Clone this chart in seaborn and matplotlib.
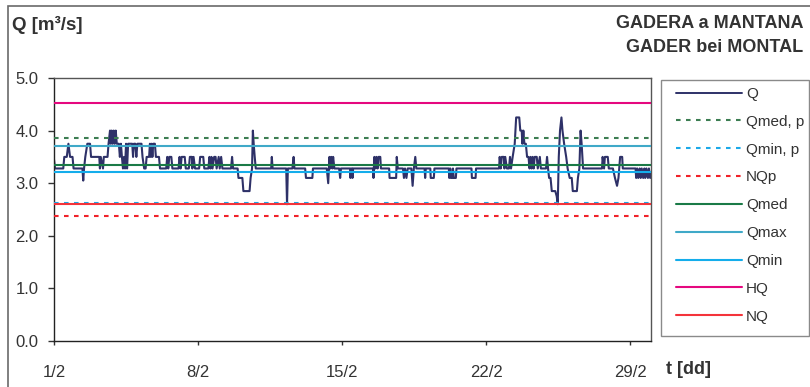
import matplotlib
matplotlib.use("Agg")
import matplotlib.pyplot as plt
from matplotlib.patches import Rectangle
from matplotlib.lines import Line2D
import numpy as np
import pandas as pd
import seaborn as sns

# Discharge series: time in days since 1 Feb 00:00, Q in m3/s
t_days = [
    0.00, 0.05, 0.45, 0.50, 0.62, 0.70, 0.78, 0.90, 0.95, 1.38, 1.42, 1.46, 1.52, 1.62,
    1.75, 1.80, 2.20, 2.23, 2.27, 2.38, 2.42, 2.60, 2.65, 2.72, 2.76, 2.80, 2.85, 2.90,
    2.95, 3.00, 3.05, 3.15, 3.20, 3.25, 3.30, 3.35, 3.40, 3.45, 3.50, 3.55, 3.60, 3.80,
    3.84, 3.88, 3.95, 4.00, 4.05, 4.25, 4.30, 4.38, 4.45, 4.50, 4.62, 4.66, 4.70, 4.74,
    4.78, 4.82, 4.90, 4.95, 5.10, 5.15, 5.45,
    5.50, 5.55, 5.60, 5.70, 5.75, 6.05, 6.10, 6.15, 6.20, 6.35, 6.40, 6.55, 6.60, 6.70,
    6.72, 6.78, 6.85, 7.05, 7.10, 7.25, 7.30, 7.50, 7.55, 7.60, 7.65, 7.70, 7.78, 7.85,
    7.90, 8.00, 8.05, 8.12, 8.18, 8.60, 8.65, 8.70, 8.92,
    8.96, 9.15, 9.20, 9.50, 9.55, 9.62, 9.66, 9.70, 9.75, 9.80, 10.55, 10.58, 10.62,
    11.28, 11.32, 11.36, 11.58, 11.64, 11.68, 12.20, 12.24, 12.55, 12.58, 13.25, 13.32,
    13.38, 13.42, 13.47, 13.52, 13.56, 13.62, 13.85, 13.90, 13.94, 14.38, 14.40, 14.44,
    14.48, 14.50, 14.53,
    15.50, 15.52, 15.56, 15.62, 15.66, 15.72, 15.76, 15.85, 15.88, 16.28, 16.30, 16.62,
    16.65, 16.70, 16.95, 17.00, 17.05, 17.12, 17.18, 17.36, 17.42, 17.48, 17.55, 17.60,
    18.00, 18.03, 18.06, 18.28, 18.30, 18.45, 18.48,
    19.18, 19.20, 19.25, 19.28, 19.35, 19.38, 19.42, 19.52, 19.55, 20.28, 20.30, 20.48,
    20.50, 21.62, 21.65, 21.70, 21.75, 21.85, 21.88, 21.92, 22.00, 22.10, 22.15, 22.20,
    22.28, 22.38, 22.45, 22.60, 22.65, 22.72, 22.75, 22.80, 22.85, 22.92, 22.98, 23.05,
    23.10, 23.15, 23.20, 23.25, 23.30, 23.35, 23.45, 23.50, 23.60, 23.65, 23.90,
    23.95, 24.00, 24.05, 24.12, 24.18, 24.35, 24.42, 24.47, 24.52, 24.58, 24.65, 24.70,
    24.78, 24.88, 24.95, 25.05, 25.15, 25.20, 25.40, 25.45, 25.52, 25.58, 25.63, 25.70,
    26.62, 26.65, 26.72, 26.76, 26.90, 26.95, 27.15, 27.25, 27.35, 27.42, 27.50, 27.60,
    27.63, 28.25, 28.28, 28.33, 28.38, 28.45, 28.50, 28.55, 28.62, 28.68, 28.72, 28.78,
    28.85, 28.90, 28.96, 29.00,
]
q_values = [
    3.45, 3.28, 3.28, 3.50, 3.50, 3.75, 3.50, 3.50, 3.28, 3.28, 3.05, 3.28, 3.50, 3.75,
    3.75, 3.50, 3.50, 3.28, 3.50, 3.28, 3.50, 3.50, 3.75, 4.00, 3.75, 4.00, 3.75, 4.00,
    3.75, 4.00, 3.75, 3.75, 3.50, 3.75, 3.50, 3.28, 3.50, 3.28, 3.75, 3.28, 3.75, 3.75,
    3.50, 3.75, 3.75, 3.50, 3.75, 3.75, 3.50, 3.28, 3.28, 3.50, 3.50, 3.75, 3.50, 3.75,
    3.50, 3.75, 3.75, 3.50, 3.50, 3.28, 3.28,
    3.50, 3.28, 3.50, 3.50, 3.28, 3.28, 3.50, 3.28, 3.50, 3.50, 3.28, 3.28, 3.50, 3.50,
    3.28, 3.50, 3.28, 3.28, 3.50, 3.50, 3.28, 3.28, 3.50, 3.28, 3.50, 3.28, 3.50, 3.50,
    3.28, 3.50, 3.28, 3.50, 3.28, 3.28, 3.50, 3.28, 3.28,
    3.10, 3.10, 2.85, 2.85, 3.10, 3.28, 4.00, 3.75, 3.50, 3.28, 3.28, 3.50, 3.28,
    3.28, 2.60, 3.28, 3.28, 3.50, 3.28, 3.28, 3.10, 3.10, 3.28, 3.28, 3.00,
    3.50, 3.28, 3.50, 3.28, 3.50, 3.28, 3.28, 3.10, 3.28, 3.28, 3.10, 3.28,
    3.28, 3.10, 3.28,
    3.28, 3.10, 3.50, 3.28, 3.50, 3.28, 3.50, 3.50, 3.28, 3.28, 3.10, 3.10,
    3.50, 3.28, 3.28, 3.10, 3.28, 3.10, 3.28, 3.28, 2.95, 3.28, 3.50, 3.28,
    3.28, 3.10, 3.28, 3.28, 3.10, 3.10, 3.28,
    3.28, 3.10, 3.28, 3.10, 3.10, 3.28, 3.10, 3.10, 3.28, 3.28, 3.10, 3.10,
    3.28, 3.28, 3.50, 3.28, 3.50, 3.50, 3.28, 3.50, 3.28, 3.28, 3.50, 3.28,
    3.50, 3.75, 4.25, 4.25, 4.00, 4.00, 3.75, 4.00, 3.75, 3.75, 3.50, 3.50,
    3.28, 3.50, 3.28, 3.50, 3.28, 3.50, 3.50, 3.28, 3.50, 3.28, 3.28,
    3.50, 3.28, 3.10, 3.10, 2.85, 2.85, 2.75, 2.60, 3.50, 4.00, 4.25, 4.00,
    3.75, 3.50, 3.28, 3.10, 3.10, 2.85, 2.85, 3.10, 3.28, 4.00, 3.75, 3.28,
    3.28, 3.50, 3.28, 3.50, 3.50, 3.28, 3.28, 3.10, 2.95, 3.10, 3.50, 3.50,
    3.28, 3.28, 3.10, 3.28, 3.10, 3.28, 3.10, 3.28, 3.10, 3.28, 3.10, 3.28,
    3.10, 3.28, 3.10, 3.20,
]

# Reference discharges (m3/s)
ref_names = ["Qmed, p", "Qmin, p", "NQp", "Qmed", "Qmax", "Qmin", "HQ", "NQ"]
ref_values = [3.865, 2.63, 2.38, 3.345, 3.71, 3.22, 4.53, 2.60]
ref_colors = ["#3C7D52", "#1BA9E8", "#F0222A", "#1A7A47", "#3FA9C8", "#14ADEB", "#E5087F", "#F4333A"]
ref_dashed = [True, True, True, False, False, False, False, False]

x_ticks = [0, 7, 14, 21, 28]
x_tick_labels = ["1/2", "8/2", "15/2", "22/2", "29/2"]
y_ticks = [0.0, 1.0, 2.0, 3.0, 4.0, 5.0]

sns.set_style("white")
plt.rcParams["font.family"] = ["Liberation Sans", "DejaVu Sans"]

W, H = 810, 387
fig = plt.figure(figsize=(W / 100, H / 100), dpi=100)
ax = fig.add_axes([54 / W, (H - 341) / H, (651 - 54) / W, (341 - 78) / H])

df = pd.DataFrame({"t": t_days, "Q": q_values})
sns.lineplot(data=df, x="t", y="Q", ax=ax, color="#2E3168", lw=1.5, zorder=2,
             estimator=None, sort=False)

handles = [Line2D([], [], color="#2E3168", lw=1.4)]
for name, val, col, dashed in zip(ref_names, ref_values, ref_colors, ref_dashed):
    ls = (0, (2.2, 2.6)) if dashed else "-"
    ax.axhline(val, color=col, lw=1.5, ls=ls, zorder=3)
    handles.append(Line2D([], [], color=col, lw=1.5, ls=ls))
labels = ["Q"] + ref_names

ax.set_xlim(0, 29)
ax.set_ylim(0, 5)
ax.set_xticks(x_ticks)
ax.set_xticklabels(x_tick_labels)
ax.set_yticks(y_ticks)
ax.set_yticklabels([f"{v:.1f}" for v in y_ticks])
ax.set_xlabel("")
ax.set_ylabel("")
ax.tick_params(axis="y", direction="out", length=4, width=1, color="#333333",
               labelsize=12, labelcolor="#333333", pad=7, left=True)
ax.tick_params(axis="x", direction="out", length=3, width=1, color="#333333",
               labelsize=12, labelcolor="#333333", pad=14, bottom=True)
for side in ["left", "bottom"]:
    ax.spines[side].set_color("#222222")
    ax.spines[side].set_linewidth(1.0)
for side in ["top", "right"]:
    ax.spines[side].set_color("#555555")
    ax.spines[side].set_linewidth(1.0)

# legend entries without their own frame; the box is drawn separately
leg_fs = 11
fs_px = leg_fs * 100 / 72
leg = fig.legend(handles, labels, loc="upper left",
                 bbox_to_anchor=(676 / W, 1 - 87 / H), frameon=False,
                 fontsize=leg_fs, handlelength=66 / fs_px, handletextpad=4 / fs_px,
                 labelspacing=0.905, borderpad=0, borderaxespad=0)
for txt in leg.get_texts():
    txt.set_color("#333333")
fig.patches.append(Rectangle((661 / W, 1 - 336 / H), (809 - 661) / W, (336 - 80) / H,
                             transform=fig.transFigure, fill=False,
                             edgecolor="#8A8A8A", lw=1.0))

fig.text(12 / W, 1 - 25 / H, "Q [m³/s]", fontsize=13.5, fontweight="bold",
         color="#333333", va="center", ha="left")
fig.text(803 / W, 1 - 23.5 / H, "GADERA a MANTANA", fontsize=13, fontweight="bold",
         color="#333333", va="center", ha="right")
fig.text(803 / W, 1 - 47.5 / H, "GADER bei MONTAL", fontsize=13, fontweight="bold",
         color="#333333", va="center", ha="right")
fig.text(666 / W, 1 - 370 / H, "t [dd]", fontsize=13, fontweight="bold",
         color="#333333", va="center", ha="left")

# outer chart border (left and top edges)
fig.patches.append(Rectangle((8 / W, -0.5), 2, 1.5 - 6 / H, transform=fig.transFigure,
                             fill=False, edgecolor="#6A6A6A", lw=1.2))

fig.savefig("out.png", dpi=100)
